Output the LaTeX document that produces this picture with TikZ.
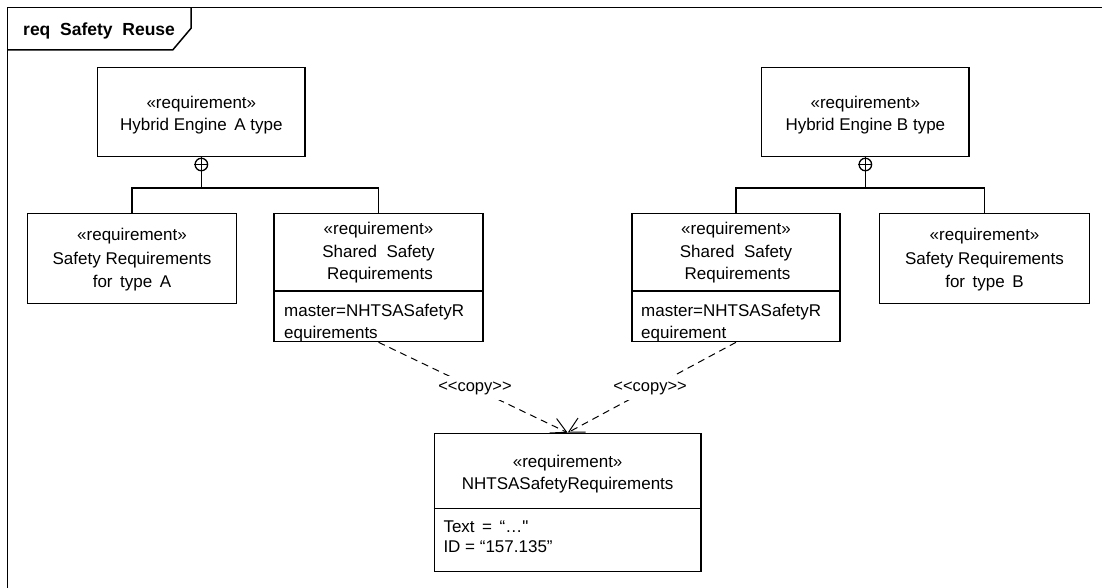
\documentclass[tikz,border=0pt]{standalone}
\usepackage{fontspec}
\setmainfont{Liberation Sans}
\newfontfamily\nomapfont{Liberation Sans}
\usetikzlibrary{arrows.meta}
\begin{document}
\begin{tikzpicture}[x=1pt,y=-1pt,
  frameline/.style={line width=1.5pt},
  box/.style={draw, rectangle, line width=1.2pt, inner sep=0pt},
  tree/.style={line width=1.2pt},
  plusc/.style={draw, circle, line width=1.3pt, inner sep=0pt, minimum size=12.5pt},
  txt/.style={anchor=base, inner sep=0pt, font=\fontsize{17}{20}\selectfont},
  attr/.style={anchor=base west, inner sep=0pt, font=\fontsize{17}{20}\selectfont},
  ttl/.style={anchor=base west, inner sep=0pt, font=\fontsize{17.5}{20}\selectfont\bfseries},
  dep/.style={line width=1pt, dash pattern=on 7pt off 5pt, -{Straight Barb[length=15pt,width=16pt]}},
  lbl/.style={fill=white, inner xsep=2pt, inner ysep=5.5pt, font=\nomapfont\fontsize{16.5}{18}\selectfont}
]
\useasboundingbox (0,0) rectangle (1102,588);

% frame
\draw[frameline] (7.5,588) -- (7.5,7.5) -- (1102,7.5);
\draw[frameline] (7.5,50) -- (172.7,50) -- (191,28.3) -- (191,7.5);
\node[ttl] (title) at (23,36) {req\ \ Safety\ \ Reuse};

% boxes
\node[box, minimum width=207.3pt, minimum height=88.8pt] (hybA) at (201.35,112.1) {};
\node[box, minimum width=207.3pt, minimum height=88.8pt] (hybB) at (865.35,112.1) {};
\node[box, minimum width=209.4pt, minimum height=90.5pt] (safA) at (132,258.55) {};
\node[box, minimum width=209.4pt, minimum height=90.5pt] (safB) at (984.5,258.55) {};
\node[box, minimum width=209pt, minimum height=128.4pt] (shA) at (378.5,277.5) {};
\node[box, minimum width=208pt, minimum height=128.4pt] (shB) at (736,277.5) {};
\node[box, minimum width=266.7pt, minimum height=138.4pt] (nh) at (567.65,502.5) {};

% compartments
\draw[line width=1.2pt] (shA.west |- 0,291) -- (shA.east |- 0,291);
\draw[line width=1.2pt] (shB.west |- 0,291) -- (shB.east |- 0,291);
\draw[line width=1.2pt] (nh.west |- 0,508.3) -- (nh.east |- 0,508.3);

% texts
\node[txt] (hybA1) at (201.35,108.5) {«requirement»};
\node[txt] (hybA2) at (201.35,130.5) {Hybrid Engine\,\ A type};
\node[txt] (hybB1) at (865.35,108.5) {«requirement»};
\node[txt] (hybB2) at (865.35,130.5) {Hybrid Engine B type};

\node[txt] (safA1) at (132,240) {«requirement»};
\node[txt] (safA2) at (132,264) {Safety Requirements};
\node[txt] (safA3) at (132,287.5) {for\,\ type\,\ A};
\node[txt] (safB1) at (984.5,240) {«requirement»};
\node[txt] (safB2) at (984.5,264) {Safety Requirements};
\node[txt] (safB3) at (984.5,287.5) {for\,\ type\,\ B};

\node[txt] (shA1) at (378.5,234.5) {«requirement»};
\node[txt] (shA2) at (378.5,257.5) {Shared\ \ Safety};
\node[txt] (shA3) at (380,279.5) {Requirements};
\node[attr] (shA4) at (284,316.5) {master=NHTSASafetyR};
\node[attr] (shA5) at (284,338) {equirements};

\node[txt] (shB1) at (736,234.5) {«requirement»};
\node[txt] (shB2) at (736,257.5) {Shared\ \ Safety};
\node[txt] (shB3) at (737.5,279.5) {Requirements};
\node[attr] (shB4) at (641,316.5) {master=NHTSASafetyR};
\node[attr] (shB5) at (641,338) {equirement};

\node[txt] (nh1) at (567.65,467.5) {«requirement»};
\node[txt] (nh2) at (567.65,489.3) {NHTSASafetyRequirements};
\node[attr] (nh3) at (443.3,532) {Text\,\ =\,\ “…{\nomapfont"}};
\node[attr] (nh4) at (443.3,552) {ID = “157.135”};

% containment trees
\coordinate (jA) at (201.35,188);
\coordinate (jB) at (865.35,188);
\draw[tree] (hybA.south) -- (jA);
\draw[tree] (safA.north) |- (jA) -| (shA.north);
\node[plusc] (cA) at (201.35,164.5) {};
\draw[tree] (cA.west) -- (cA.east);
\draw[tree] (hybB.south) -- (jB);
\draw[tree] (shB.north) |- (jB) -| (safB.north);
\node[plusc] (cB) at (865.35,164.5) {};
\draw[tree] (cB.west) -- (cB.east);

% copy dependencies
\draw[dep] (shA.south) -- node[lbl, pos=0.51] (copyA) {<<copy>>} (nh.north);
\draw[dep] (shB.south) -- node[lbl, pos=0.51] (copyB) {<<copy>>} (nh.north);
\end{tikzpicture}
\end{document}
